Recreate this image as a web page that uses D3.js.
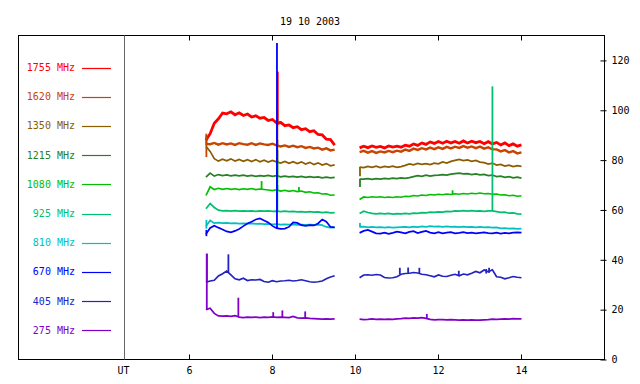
<!DOCTYPE html>
<html>
<head>
<meta charset="utf-8">
<script src="https://cdn.jsdelivr.net/npm/d3@7"></script>
<style>
  body { margin: 0; background: #fff; }
  svg { display: block; }
  text { font-family: "DejaVu Sans Mono", monospace; font-size: 10px; }
</style>
</head>
<body>
<svg id="plotSvg" width="640" height="384"></svg>
<script>
// Frequencies (legend order) and their colours
const freqs = ["1755", "1620", "1350", "1215", "1080", "925", "810", "670", "405", "275"];
const colors = ["#ff0000", "#c84400", "#8c5c00", "#268026", "#00c000", "#00c070", "#00c0c0", "#0000ff", "#2222c0", "#8000c8"];

// Sample times (UT hours) of the two recording intervals
const times1 = [6.4, 6.5, 6.6, 6.7, 6.8, 6.9, 7.0, 7.1, 7.2, 7.3, 7.4, 7.5, 7.6, 7.7, 7.8, 7.9,
  8.0, 8.1, 8.2, 8.3, 8.4, 8.5, 8.6, 8.7, 8.8, 8.9, 9.0, 9.1, 9.2, 9.3, 9.4, 9.5];
const times2 = [10.1, 10.2, 10.3, 10.4, 10.5, 10.6, 10.7, 10.8, 10.9, 11.0, 11.1, 11.2, 11.3, 11.4, 11.5, 11.6,
  11.7, 11.8, 11.9, 12.0, 12.1, 12.2, 12.3, 12.4, 12.5, 12.6, 12.7, 12.8, 12.9, 13.0, 13.1, 13.2,
  13.3, 13.4, 13.5, 13.6, 13.7, 13.8, 13.9, 14.0];

// flux values, first interval (a) and second interval (b)
const f1755a = [88.0, 90.6, 94.8, 96.6, 98.9, 98.6, 99.4, 98.2, 99.0, 97.9, 98.5, 97.3, 97.8, 96.8, 97.1, 95.9,
  96.3, 95.0, 95.1, 93.8, 94.1, 93.0, 93.4, 92.2, 92.6, 91.4, 91.8, 90.3, 90.1, 88.4, 88.2, 86.0];
const f1755b = [84.9, 85.6, 85.0, 85.7, 85.1, 85.5, 84.9, 85.7, 85.2, 85.6, 85.2, 86.0, 85.6, 86.5, 85.9, 86.9,
  86.3, 87.3, 86.7, 87.5, 86.8, 87.6, 86.9, 87.5, 86.8, 87.7, 86.9, 87.6, 87.0, 87.5, 86.6, 87.4,
  86.5, 87.1, 86.1, 86.9, 85.8, 86.5, 85.6, 86.1];
const f1620a = [86.5, 86.4, 86.9, 86.2, 86.8, 86.3, 86.7, 86.1, 86.8, 86.4, 86.2, 86.8, 86.1, 86.7, 86.3, 86.1,
  86.6, 85.9, 85.5, 85.9, 85.3, 85.8, 85.2, 85.6, 84.9, 85.3, 84.7, 85.0, 84.2, 84.7, 83.9, 84.2];
const f1620b = [83.2, 83.7, 83.0, 83.6, 82.9, 83.5, 83.1, 83.7, 83.2, 83.8, 83.4, 84.2, 83.7, 84.6, 84.1, 84.8,
  84.3, 85.0, 84.4, 85.1, 84.5, 85.3, 84.7, 85.4, 84.9, 85.6, 85.0, 85.5, 84.8, 85.4, 84.6, 85.1,
  84.3, 84.3, 83.5, 84.0, 83.1, 83.6, 82.7, 83.1];
const f1350a = [85.5, 83.5, 80.6, 79.6, 80.4, 79.7, 80.5, 79.6, 80.3, 79.5, 80.2, 79.4, 80.2, 79.3, 80.0, 79.2,
  79.9, 79.3, 78.8, 79.5, 78.7, 79.4, 78.6, 79.3, 78.4, 79.1, 78.2, 78.9, 78.0, 78.6, 77.7, 78.1];
const f1350b = [77.2, 77.0, 77.5, 77.1, 77.6, 77.0, 77.5, 77.2, 77.6, 77.1, 77.4, 77.9, 78.5, 78.1, 78.7, 78.3,
  78.6, 78.2, 78.8, 78.5, 79.3, 78.8, 79.5, 79.9, 80.3, 79.8, 80.1, 79.5, 79.9, 79.2, 79.0, 78.4,
  78.8, 78.0, 78.3, 77.6, 78.0, 77.4, 77.8, 77.5];
const f1215a = [73.2, 74.8, 73.6, 74.2, 73.8, 74.1, 73.7, 74.0, 73.7, 74.0, 73.6, 73.9, 73.5, 73.8, 73.6, 73.9,
  73.5, 73.8, 73.3, 73.6, 73.3, 73.5, 73.2, 73.5, 73.1, 73.4, 73.1, 73.3, 72.9, 73.2, 72.9, 73.1];
const f1215b = [72.4, 72.4, 72.6, 72.3, 72.6, 72.4, 72.7, 72.5, 72.8, 72.6, 72.9, 72.7, 73.0, 73.4, 73.8, 73.5,
  74.0, 73.6, 73.9, 74.0, 74.2, 74.0, 74.4, 74.6, 74.8, 74.5, 74.6, 74.2, 74.5, 74.1, 74.3, 73.8,
  74.0, 73.4, 73.6, 73.1, 73.4, 72.9, 73.2, 72.8];
const f1080a = [65.8, 69.3, 68.2, 68.7, 68.3, 68.6, 68.3, 68.5, 68.2, 68.5, 68.3, 68.6, 68.2, 68.4, 68.2, 68.0,
  67.8, 68.1, 67.6, 67.9, 67.5, 67.8, 67.4, 67.6, 67.1, 67.3, 66.8, 66.9, 66.4, 66.5, 65.9, 66.0];
const f1080b = [64.2, 65.2, 65.0, 65.3, 65.1, 65.3, 65.0, 65.2, 65.0, 65.3, 65.1, 65.5, 65.4, 65.8, 65.6, 66.0,
  65.8, 66.2, 66.0, 66.3, 66.1, 66.4, 66.2, 66.5, 66.3, 66.6, 66.4, 66.7, 66.5, 66.8, 66.5, 66.6,
  66.3, 66.4, 66.0, 66.1, 65.7, 65.9, 65.5, 65.7];
const f925a = [60.5, 62.6, 61.0, 59.9, 59.6, 59.7, 59.5, 59.7, 59.5, 59.6, 59.5, 59.6, 59.4, 59.6, 59.5, 59.6,
  59.4, 59.5, 59.3, 59.5, 59.3, 59.4, 59.2, 59.3, 59.1, 59.3, 59.1, 59.2, 58.9, 59.1, 58.8, 58.9];
const f925b = [58.6, 59.5, 59.0, 58.6, 58.4, 58.6, 58.4, 58.6, 58.3, 58.5, 58.4, 58.6, 58.4, 58.7, 58.6, 58.9,
  58.8, 59.1, 59.0, 59.2, 59.1, 59.4, 59.3, 59.6, 59.5, 59.7, 59.5, 59.7, 59.5, 59.6, 59.4, 59.6,
  59.6, 59.3, 59.0, 59.1, 58.7, 58.8, 58.4, 58.3];
const f810a = [53.5, 55.8, 54.7, 54.9, 54.7, 54.8, 54.6, 54.7, 54.5, 54.6, 54.5, 54.6, 54.4, 54.5, 54.3, 54.4,
  54.2, 54.3, 54.1, 54.2, 54.1, 54.2, 54.0, 54.1, 54.0, 54.1, 54.0, 54.1, 53.9, 53.2, 52.9, 53.0];
const f810b = [53.2, 53.3, 53.0, 53.2, 53.0, 53.1, 52.9, 53.1, 52.9, 53.0, 53.1, 53.2, 53.0, 53.3, 53.1, 53.4,
  53.2, 53.5, 53.3, 53.4, 53.2, 53.4, 53.2, 53.3, 53.1, 53.3, 53.1, 53.2, 53.0, 53.2, 53.0, 53.1,
  52.9, 53.0, 52.6, 52.7, 52.5, 52.6, 52.4, 52.5];
const f670a = [50.3, 52.8, 53.7, 52.9, 52.2, 51.4, 51.0, 51.6, 52.4, 53.5, 54.6, 55.3, 56.2, 56.6, 55.8, 55.0,
  53.6, 52.7, 52.4, 52.5, 53.2, 55.0, 54.8, 53.9, 53.6, 53.9, 53.8, 54.6, 56.2, 55.3, 53.2, 53.0];
const f670b = [50.8, 51.6, 52.0, 51.3, 50.6, 50.5, 50.9, 50.4, 50.8, 51.3, 51.0, 50.6, 51.2, 51.5, 50.7, 51.2,
  51.6, 50.9, 50.6, 51.1, 50.6, 50.9, 51.1, 50.6, 50.8, 51.1, 50.7, 50.9, 50.6, 50.8, 51.0, 50.7,
  50.6, 50.9, 50.5, 50.8, 50.6, 50.9, 51.0, 50.9];
const f405a = [31.0, 31.5, 31.8, 33.5, 34.4, 35.5, 34.0, 32.4, 32.0, 32.6, 31.7, 32.0, 31.9, 32.1, 31.3, 31.0,
  31.6, 31.2, 31.5, 31.6, 31.8, 31.5, 31.7, 32.0, 31.6, 31.2, 31.0, 31.2, 31.5, 32.4, 33.1, 33.6];
const f405b = [32.8, 33.9, 34.0, 33.8, 34.1, 33.9, 32.9, 32.7, 32.8, 33.2, 34.2, 34.5, 34.6, 34.9, 34.7, 34.2,
  34.0, 33.6, 33.2, 33.9, 33.4, 33.3, 33.8, 34.2, 33.6, 34.3, 34.0, 34.6, 35.3, 34.8, 35.9, 35.2,
  36.0, 33.2, 33.0, 32.4, 32.8, 33.3, 33.0, 32.8];
const f275a = [20.0, 20.6, 18.5, 17.5, 17.4, 17.5, 17.3, 17.6, 17.0, 16.8, 17.0, 16.9, 17.0, 16.8, 17.0, 16.9,
  17.1, 16.9, 17.0, 16.9, 16.8, 17.3, 16.7, 16.6, 16.7, 16.5, 16.4, 16.3, 16.2, 16.3, 16.2, 16.3];
const f275b = [16.2, 16.0, 16.1, 16.3, 16.1, 16.2, 16.1, 16.2, 16.1, 16.3, 16.4, 16.6, 16.5, 16.7, 16.6, 16.8,
  16.5, 16.1, 15.9, 16.0, 16.0, 15.9, 16.0, 15.9, 15.8, 15.9, 15.8, 15.9, 15.8, 15.8, 15.9, 16.0,
  16.2, 16.1, 16.2, 16.3, 16.2, 16.4, 16.3, 16.3];

// short bursts: [freq, time, from, to]
const spikes = [
  ["1755", 6.41, 86.0, 90.0], ["1755", 8.13, 94.0, 115.5],
  ["1620", 6.41, 81.2, 90.6], ["1620", 8.12, 85.5, 100.0],
  ["1350", 8.12, 79.0, 88.0], ["1350", 10.11, 73.5, 77.2],
  ["1215", 8.12, 73.5, 84.0], ["1215", 10.11, 69.2, 72.4],
  ["1080", 7.74, 68.3, 71.6], ["1080", 8.12, 67.5, 80.0], ["1080", 8.64, 67.5, 69.2], ["1080", 12.34, 66.3, 67.9],
  ["925", 8.12, 59.4, 70.0], ["925", 13.30, 59.6, 109.6],
  ["810", 6.41, 52.5, 56.0], ["810", 10.11, 53.1, 54.8],
  ["670", 6.41, 49.5, 52.0], ["670", 8.11, 52.5, 127.0],
  ["405", 6.42, 31.0, 42.4], ["405", 6.94, 35.0, 42.2], ["405", 11.07, 34.2, 36.8], ["405", 11.27, 34.6, 36.9],
  ["405", 11.54, 34.7, 36.8], ["405", 12.49, 33.8, 35.6], ["405", 13.15, 34.5, 36.3], ["405", 13.22, 34.8, 36.8],
  ["275", 6.42, 20.0, 42.5], ["275", 7.18, 17.2, 24.8], ["275", 8.02, 17.0, 19.0], ["275", 8.24, 17.0, 19.7],
  ["275", 8.79, 16.7, 19.3], ["275", 11.72, 16.5, 18.3]
];

const xTicks = [6, 8, 10, 12, 14];
const yTicks = [0, 20, 40, 60, 80, 100, 120];

const seriesA = [f1755a, f1620a, f1350a, f1215a, f1080a, f925a, f810a, f670a, f405a, f275a];
const seriesB = [f1755b, f1620b, f1350b, f1215b, f1080b, f925b, f810b, f670b, f405b, f275b];
// noisier channels are drawn as a thicker band
const widths = [2.8, 2.4, 1.7, 1.7, 1.7, 1.7, 1.7, 1.7, 1.7, 1.7];

// plot frame
const frameL = 18.5, frameR = 604.5, frameT = 35.5, frameB = 359.5, sepX = 124.5;

const x = d3.scaleLinear().domain([1.884, 16]).range([frameL, frameR]);
const y = d3.scaleLinear().domain([0, 130]).range([frameB, frameT]);

const svg = d3.select("#plotSvg");

// title
svg.append("text")
    .attr("x", 310).attr("y", 25)
    .attr("text-anchor", "middle")
    .text("19 10 2003");

// frame
svg.append("rect")
    .attr("x", frameL).attr("y", frameT)
    .attr("width", frameR - frameL).attr("height", frameB - frameT)
    .attr("fill", "none").attr("stroke", "#000").attr("stroke-width", 1);

svg.append("line")
    .attr("x1", sepX).attr("x2", sepX).attr("y1", frameT).attr("y2", frameB)
    .attr("stroke", "#666").attr("stroke-width", 1);

// x ticks (top and bottom, inward)
xTicks.forEach(t => {
    const px = Math.round(x(t)) + 0.5;
    svg.append("line").attr("x1", px).attr("x2", px).attr("y1", frameT).attr("y2", frameT + 5)
        .attr("stroke", "#000");
    svg.append("line").attr("x1", px).attr("x2", px).attr("y1", frameB).attr("y2", frameB - 5)
        .attr("stroke", "#000");
    svg.append("text").attr("x", px).attr("y", 374)
        .attr("text-anchor", "middle").text(t);
});
svg.append("text").attr("x", sepX - 1).attr("y", 374)
    .attr("text-anchor", "middle").text("UT");

// right y axis
const yAxis = d3.axisRight(y).tickValues(yTicks).tickSize(3).tickPadding(4);
const gy = svg.append("g").attr("transform", `translate(${frameR},0)`).call(yAxis);
gy.select(".domain").remove();
gy.selectAll(".tick line").attr("x1", -4).attr("x2", 2);
gy.selectAll("text").style("font-family", "DejaVu Sans Mono, monospace").style("font-size", "10px");

// legend
freqs.forEach((f, i) => {
    const ly = 67.5 + i * 29.2;
    svg.append("text")
        .attr("x", 75).attr("y", ly + 3.5)
        .attr("text-anchor", "end")
        .attr("fill", colors[i])
        .text(f + " MHz");
    svg.append("line")
        .attr("x1", 82).attr("x2", 111)
        .attr("y1", Math.round(ly) + 0.5).attr("y2", Math.round(ly) + 0.5)
        .attr("stroke", colors[i]).attr("stroke-width", 1.2);
});

// data lines
const line = d3.line().x(d => x(d[0])).y(d => y(d[1]));
const plot = svg.append("g");

freqs.forEach((f, i) => {
    [[times1, seriesA[i]], [times2, seriesB[i]]].forEach(([ts, vs]) => {
        plot.append("path")
            .datum(ts.map((t, k) => [t, vs[k]]))
            .attr("d", line)
            .attr("fill", "none")
            .attr("stroke", colors[i])
            .attr("stroke-width", widths[i]);
    });
    plot.selectAll(null)
        .data(spikes.filter(s => s[0] === f))
        .enter().append("line")
        .attr("x1", d => x(d[1])).attr("x2", d => x(d[1]))
        .attr("y1", d => y(d[2])).attr("y2", d => y(d[3]))
        .attr("stroke", colors[i])
        .attr("stroke-width", 1.8);
});
</script>
</body>
</html>
